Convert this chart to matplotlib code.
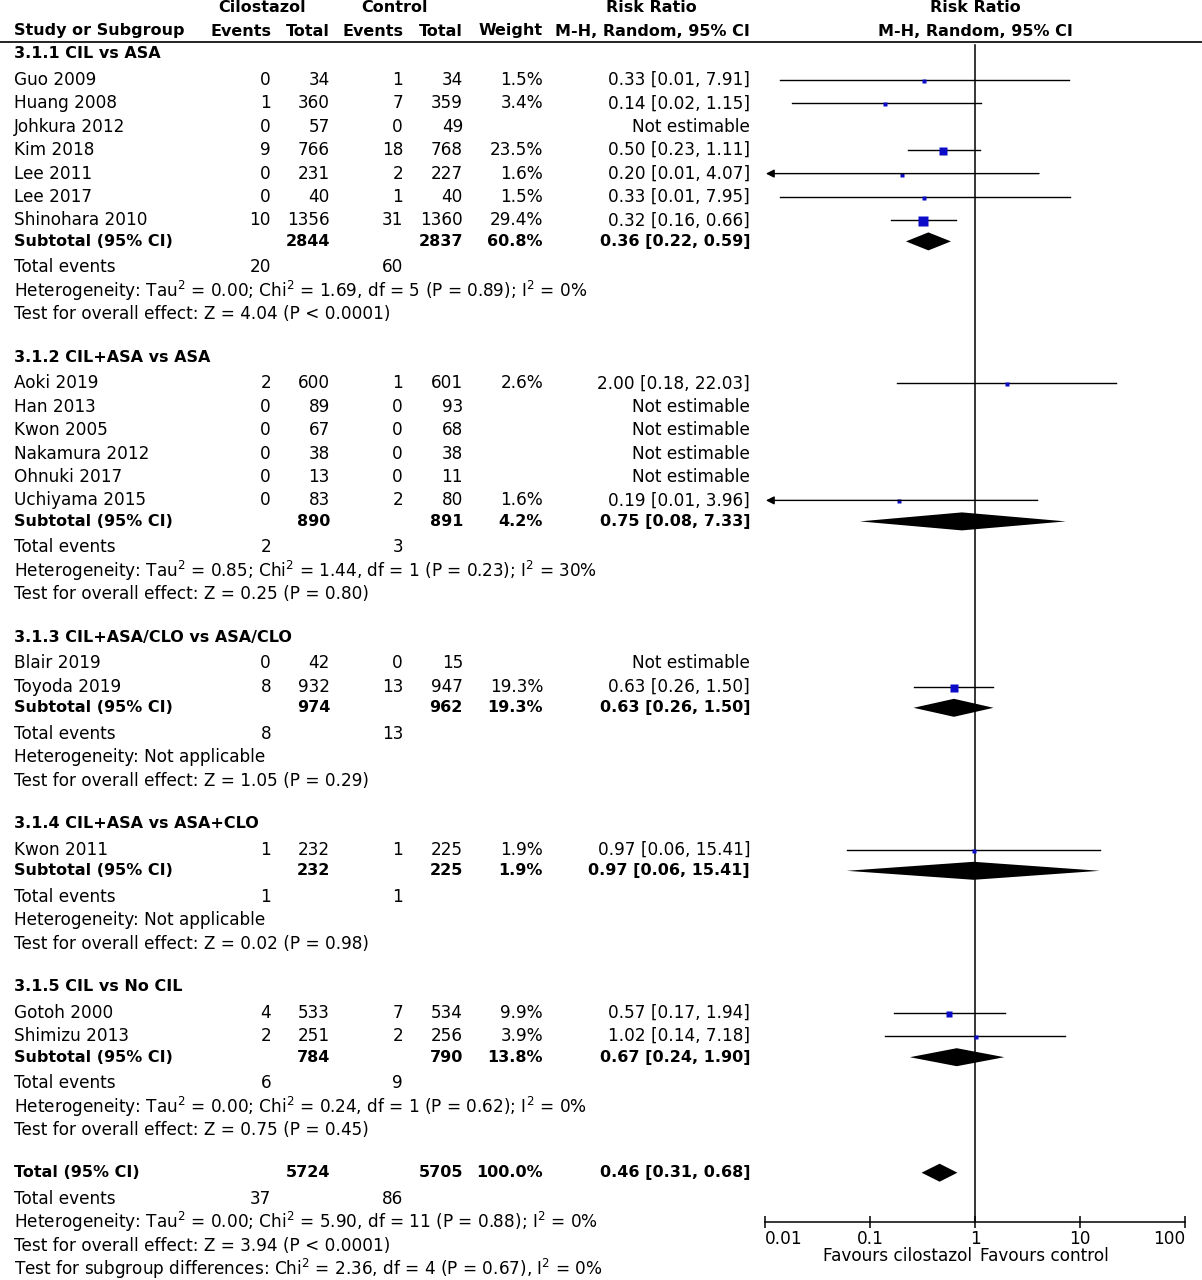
#!/usr/bin/env python3

import matplotlib

matplotlib.use("Agg")
import matplotlib.pyplot as plt
import numpy as np

plt.rcParams["font.family"] = ["DejaVu Sans"]
plt.rcParams["mathtext.fontset"] = "dejavusans"
FS = 12.2      # regular text
FS_B = 11.5    # bold text

# ---- data ----
group_names = [
    "3.1.1 CIL vs ASA",
    "3.1.2 CIL+ASA vs ASA",
    "3.1.3 CIL+ASA/CLO vs ASA/CLO",
    "3.1.4 CIL+ASA vs ASA+CLO",
    "3.1.5 CIL vs No CIL",
]
study = [
    "Guo 2009", "Huang 2008", "Johkura 2012", "Kim 2018", "Lee 2011", "Lee 2017", "Shinohara 2010",
    "Aoki 2019", "Han 2013", "Kwon 2005", "Nakamura 2012", "Ohnuki 2017", "Uchiyama 2015",
    "Blair 2019", "Toyoda 2019",
    "Kwon 2011",
    "Gotoh 2000", "Shimizu 2013",
]
group_of = [0] * 7 + [1] * 6 + [2] * 2 + [3] + [4] * 2
cil_events = [0, 1, 0, 9, 0, 0, 10, 2, 0, 0, 0, 0, 0, 0, 8, 1, 4, 2]
cil_total = [34, 360, 57, 766, 231, 40, 1356, 600, 89, 67, 38, 13, 83, 42, 932, 232, 533, 251]
ctl_events = [1, 7, 0, 18, 2, 1, 31, 1, 0, 0, 0, 0, 2, 0, 13, 1, 7, 2]
ctl_total = [34, 359, 49, 768, 227, 40, 1360, 601, 93, 68, 38, 11, 80, 15, 947, 225, 534, 256]
nan = np.nan
weight = [1.5, 3.4, nan, 23.5, 1.6, 1.5, 29.4, 2.6, nan, nan, nan, nan, 1.6, nan, 19.3, 1.9, 9.9, 3.9]
rr = [0.33, 0.14, nan, 0.50, 0.20, 0.33, 0.32, 2.00, nan, nan, nan, nan, 0.19, nan, 0.63, 0.97, 0.57, 1.02]
rr_lo = [0.014, 0.018, nan, 0.23, 0.008, 0.014, 0.16, 0.18, nan, nan, nan, nan, 0.008, nan, 0.26, 0.06, 0.17, 0.14]
rr_hi = [7.91, 1.15, nan, 1.11, 4.07, 7.95, 0.66, 22.03, nan, nan, nan, nan, 3.96, nan, 1.50, 15.41, 1.94, 7.18]

sub_cil_total = [2844, 890, 974, 232, 784]
sub_ctl_total = [2837, 891, 962, 225, 790]
sub_weight = [60.8, 4.2, 19.3, 1.9, 13.8]
sub_rr = [0.36, 0.75, 0.63, 0.97, 0.67]
sub_lo = [0.22, 0.08, 0.26, 0.06, 0.24]
sub_hi = [0.59, 7.33, 1.50, 15.41, 1.90]
sub_cil_events = [20, 2, 8, 1, 6]
sub_ctl_events = [60, 3, 13, 1, 9]
sub_het = [
    r"Heterogeneity: Tau$^2$ = 0.00; Chi$^2$ = 1.69, df = 5 (P = 0.89); I$^2$ = 0%",
    r"Heterogeneity: Tau$^2$ = 0.85; Chi$^2$ = 1.44, df = 1 (P = 0.23); I$^2$ = 30%",
    "Heterogeneity: Not applicable",
    "Heterogeneity: Not applicable",
    r"Heterogeneity: Tau$^2$ = 0.00; Chi$^2$ = 0.24, df = 1 (P = 0.62); I$^2$ = 0%",
]
sub_effect = [
    "Test for overall effect: Z = 4.04 (P < 0.0001)",
    "Test for overall effect: Z = 0.25 (P = 0.80)",
    "Test for overall effect: Z = 1.05 (P = 0.29)",
    "Test for overall effect: Z = 0.02 (P = 0.98)",
    "Test for overall effect: Z = 0.75 (P = 0.45)",
]

tot_cil_total, tot_ctl_total = 5724, 5705
tot_rr, tot_lo, tot_hi = 0.46, 0.31, 0.68
tot_cil_events, tot_ctl_events = 37, 86
tot_het = r"Heterogeneity: Tau$^2$ = 0.00; Chi$^2$ = 5.90, df = 11 (P = 0.88); I$^2$ = 0%"
tot_effect = "Test for overall effect: Z = 3.94 (P < 0.0001)"
tot_subgroup = r"Test for subgroup differences: Chi$^2$ = 2.36, df = 4 (P = 0.67), I$^2$ = 0%"

axis_ticks = [0.01, 0.1, 1, 10, 100]
axis_ticklabels = ["0.01", "0.1", "1", "10", "100"]

# ---- layout (pixels) ----
W, H = 1202, 1280
X_NAME, X_CE, X_CT, X_KE, X_KT, X_W, X_RR = 14, 271, 330, 403, 463, 543, 750
PLOT_L, PLOT_R, AXIS_Y = 765, 1185, 1222
BLUE = "#0b0bc8"

fig = plt.figure(figsize=(W / 100, H / 100), dpi=100)
ax = fig.add_axes([0, 0, 1, 1])
ax.set_xlim(0, W)
ax.set_ylim(H, 0)
ax.axis("off")

fax = fig.add_axes([PLOT_L / W, (H - AXIS_Y) / H, (PLOT_R - PLOT_L) / W, AXIS_Y / H])
fax.set_xscale("log")
fax.set_xlim(axis_ticks[0], axis_ticks[-1])
fax.set_ylim(AXIS_Y, 0)
fax.patch.set_alpha(0)
for s in ("top", "left", "right"):
    fax.spines[s].set_visible(False)
fax.spines["bottom"].set_linewidth(1.1)
fax.set_yticks([])
fax.set_xticks(axis_ticks)
fax.set_xticklabels(axis_ticklabels, fontsize=FS)
fax.minorticks_off()
fax.tick_params(axis="x", direction="inout", length=9, width=1.1, pad=1)
# end labels sit inside the axis span, as in the reference
labels = fax.get_xticklabels()
labels[0].set_ha("left")
labels[-1].set_ha("right")
fax.axvline(1, ymin=0, ymax=(AXIS_Y - 45) / AXIS_Y, color="black", lw=1.1)


def txt(x, y, s, ha="left", bold=False):
    ax.text(x, y, s, ha=ha, va="center", fontsize=FS_B if bold else FS,
            fontweight="bold" if bold else "normal")


def diamond(mid, lo, hi, y, h=9):
    fax.fill([lo, mid, hi, mid], [y, y - h, y, y + h], color="black", lw=0)


# header
txt(262, 8, "Cilostazol", ha="center", bold=True)
txt(395, 8, "Control", ha="center", bold=True)
txt(651, 8, "Risk Ratio", ha="center", bold=True)
txt(975, 8, "Risk Ratio", ha="center", bold=True)
txt(X_NAME, 31, "Study or Subgroup", bold=True)
for x, s in [(X_CE, "Events"), (X_CT, "Total"), (X_KE, "Events"), (X_KT, "Total"), (X_W, "Weight")]:
    txt(x, 31, s, ha="right", bold=True)
txt(X_RR, 31, "M-H, Random, 95% CI", ha="right", bold=True)
txt(975, 31, "M-H, Random, 95% CI", ha="center", bold=True)
ax.plot([0, W], [42, 42], color="black", lw=1.2)

y = 54
for g, gname in enumerate(group_names):
    txt(X_NAME, y, gname, bold=True)
    y += 26
    idx = [i for i, gg in enumerate(group_of) if gg == g]
    for k, i in enumerate(idx):
        if k:
            y += 23.4
        txt(X_NAME, y, study[i])
        txt(X_CE, y, str(cil_events[i]), ha="right")
        txt(X_CT, y, str(cil_total[i]), ha="right")
        txt(X_KE, y, str(ctl_events[i]), ha="right")
        txt(X_KT, y, str(ctl_total[i]), ha="right")
        if np.isnan(rr[i]):
            txt(X_RR, y, "Not estimable", ha="right")
            continue
        txt(X_W, y, f"{weight[i]:.1f}%", ha="right")
        txt(X_RR, y, f"{rr[i]:.2f} [{rr_lo[i]:.2f}, {rr_hi[i]:.2f}]", ha="right")
        if rr_lo[i] < axis_ticks[0]:
            fax.annotate("", xy=(axis_ticks[0] * 1.02, y), xytext=(rr_hi[i], y),
                         arrowprops=dict(arrowstyle="-|>", color="black", lw=1.0,
                                         mutation_scale=12, shrinkA=0, shrinkB=0))
        else:
            fax.plot([rr_lo[i], rr_hi[i]], [y, y], color="black", lw=1.0)
        side = max(1.85 * np.sqrt(weight[i]), 3.2)
        fax.plot(rr[i], y + 1, "s", color=BLUE, mec="none", ms=side * 0.72)
    y += 21
    txt(X_NAME, y, "Subtotal (95% CI)", bold=True)
    txt(X_CT, y, str(sub_cil_total[g]), ha="right", bold=True)
    txt(X_KT, y, str(sub_ctl_total[g]), ha="right", bold=True)
    txt(X_W, y, f"{sub_weight[g]:.1f}%", ha="right", bold=True)
    txt(X_RR, y, f"{sub_rr[g]:.2f} [{sub_lo[g]:.2f}, {sub_hi[g]:.2f}]", ha="right", bold=True)
    diamond(sub_rr[g], sub_lo[g], sub_hi[g], y)
    y += 26
    txt(X_NAME, y, "Total events")
    txt(X_CE, y, str(sub_cil_events[g]), ha="right")
    txt(X_KE, y, str(sub_ctl_events[g]), ha="right")
    y += 23.5
    txt(X_NAME, y, sub_het[g])
    y += 23.5
    txt(X_NAME, y, sub_effect[g])
    y += 43

y -= 0.5
txt(X_NAME, y, "Total (95% CI)", bold=True)
txt(X_CT, y, str(tot_cil_total), ha="right", bold=True)
txt(X_KT, y, str(tot_ctl_total), ha="right", bold=True)
txt(X_W, y, "100.0%", ha="right", bold=True)
txt(X_RR, y, f"{tot_rr:.2f} [{tot_lo:.2f}, {tot_hi:.2f}]", ha="right", bold=True)
diamond(tot_rr, tot_lo, tot_hi, y)
y += 26
txt(X_NAME, y, "Total events")
txt(X_CE, y, str(tot_cil_events), ha="right")
txt(X_KE, y, str(tot_ctl_events), ha="right")
y += 23.5
txt(X_NAME, y, tot_het)
y += 23.5
txt(X_NAME, y, tot_effect)
y += 23.5
txt(X_NAME, y, tot_subgroup)

txt(972, 1256, "Favours cilostazol", ha="right")
txt(980, 1256, "Favours control")

fig.savefig("out.png", dpi=100)
